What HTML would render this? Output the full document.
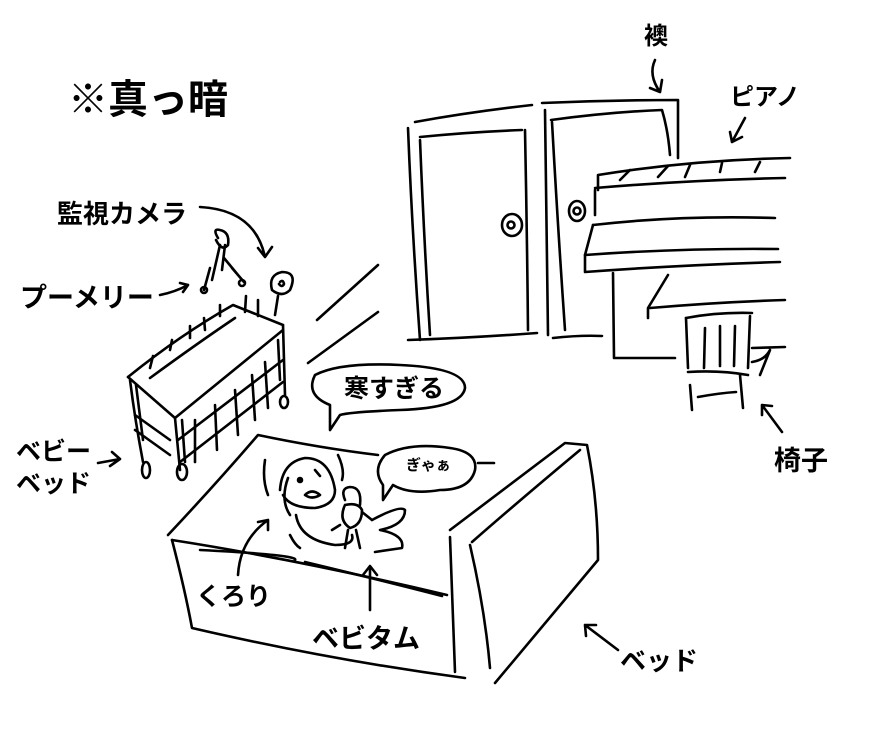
<!DOCTYPE html>
<html><head><meta charset="utf-8"><style>
html,body{margin:0;padding:0;background:#fff}
svg{display:block}
text{font-family:"Liberation Sans","Noto Sans CJK JP",sans-serif;font-weight:bold;fill:#000}
</style></head><body>
<svg width="890" height="734" viewBox="0 0 890 734" xmlns="http://www.w3.org/2000/svg">
<g fill="none" stroke="#000" stroke-width="2.6" stroke-linecap="round" stroke-linejoin="round">
<path d="M415,122 Q470,112 532,105"/>
<path d="M408,128 Q412,230 420,340"/>
<path d="M420,137 Q470,132 522,130"/>
<path d="M420,140 Q424,240 430,335"/>
<path d="M525,130 Q527,230 528,330"/>
<path d="M408,340 Q470,338 537,333"/>
<path d="M542,103 Q610,100 678,100 L678,158"/>
<path d="M551,120 Q610,112 662,110 Q668,130 670,155"/>
<path d="M545,110 Q546,220 548,335"/>
<path d="M552,122 Q558,230 565,330"/>
<path d="M553,338 Q580,335 602,336"/>
<ellipse cx="512" cy="225" rx="10" ry="11"/>
<circle cx="511" cy="225" r="3.5"/>
<ellipse cx="577" cy="211" rx="8" ry="10"/>
<circle cx="577" cy="211" r="3.5"/>
<path d="M598,190 L598,175 Q690,160 790,158"/>
<path d="M595,188 Q690,180 785,178"/>
<path d="M620,180 L630,170 M658,177 L668,166 M685,177 L690,165 M720,172 L722,163 M755,172 L760,162"/>
<path d="M595,190 L595,215"/>
<path d="M593,225 Q680,215 775,218"/>
<path d="M593,225 L585,255 L585,272 Q680,265 780,262"/>
<path d="M585,255 Q680,248 778,249"/>
<path d="M613,273 L614,358 L675,358"/>
<path d="M668,275 L648,308 L648,318"/>
<path d="M650,308 Q720,302 785,300"/>
<path d="M686,318 Q718,312 752,313"/>
<path d="M686,318 L688,368 M750,316 L748,368"/>
<path d="M705,328 L704,368 M720,326 L720,366 M735,326 L734,366"/>
<path d="M688,372 Q720,370 748,375"/>
<path d="M690,385 L692,410 M740,375 L743,408"/>
<path d="M698,397 Q720,393 736,392"/>
<path d="M752,348 L785,347 M752,362 Q765,360 770,350 L760,375"/>
<path d="M317,320 L378,265 M308,363 L378,312"/>
<path d="M128,377 Q180,335 233,305 L283,325"/>
<path d="M150,378 Q195,345 235,318"/>
<path d="M128,377 L175,418 L283,330"/>
<path d="M130,380 Q135,420 143,462 M136,385 L143,440"/>
<path d="M175,418 L180,470 M182,420 L185,462"/>
<path d="M180,462 L283,382 M178,440 L283,360"/>
<path d="M283,325 L285,395 M278,340 L280,380"/>
<path d="M195,420 L195,462 M215,405 L217,450 M235,390 L238,435 M252,375 L255,420 M265,362 L268,408"/>
<path d="M135,415 L170,440 M135,430 L170,455"/>
<path d="M150,368 L153,356 M170,350 L172,340 M190,338 L190,326 M205,330 L204,318 M220,316 L220,305 M245,312 L246,296 M258,316 L258,300"/>
<ellipse cx="146" cy="470" rx="4" ry="8"/>
<ellipse cx="182" cy="472" rx="5" ry="8"/>
<ellipse cx="284" cy="402" rx="4" ry="6"/>
<path d="M218,238 Q212,228 220,230 Q230,232 228,245 Q222,252 216,240"/>
<path d="M220,245 L212,280 M225,245 L222,270 M224,258 L238,275 M210,268 L204,290 M232,268 L244,282"/>
<circle cx="204" cy="290" r="3"/><circle cx="242" cy="283" r="3"/>
<path d="M272,290 Q268,275 282,272 Q298,272 290,290 Q282,298 272,290 Z"/>
<path d="M280,282 q3,-3 4,2 q-2,4 -5,0"/>
<path d="M278,296 L275,315"/>
<path d="M168,535 Q215,485 258,435 Q320,448 378,455"/>
<path d="M172,540 Q185,590 192,628 Q330,660 465,678"/>
<path d="M172,540 Q300,560 447,595"/>
<path d="M200,550 Q300,555 295,560 M305,562 Q380,580 442,596"/>
<path d="M450,537 L455,672"/>
<path d="M450,530 L565,443 L587,445 Q598,500 598,560 L495,683"/>
<path d="M472,542 Q520,500 580,450"/>
<path d="M470,545 Q485,610 490,668"/>
<path d="M280,490 Q282,462 305,458 Q330,458 335,490 Q335,505 315,508 Q290,508 283,495"/>
<path d="M288,478 Q280,500 290,515"/>
<path d="M296,515 Q300,540 335,545 Q355,545 352,535"/>
<circle cx="300" cy="480" r="2" fill="#000"/>
<path d="M305,495 Q312,488 320,495 Q312,500 305,495"/>
<path d="M315,470 L320,476"/>
<path d="M265,460 Q262,480 268,495 M338,455 Q345,470 342,480 M290,535 Q295,545 300,548"/>
<path d="M345,500 Q340,488 350,487 Q362,487 360,505"/>
<path d="M345,505 Q338,520 350,528 Q362,525 362,510 Q358,502 345,505"/>
<path d="M340,525 L332,530 M362,512 L372,520 M348,530 L345,548 M356,530 L360,548"/>
<path d="M372,520 Q400,505 405,510 Q405,525 380,530 Q405,535 402,548 L375,552"/>
<path d="M330,430 L330,405 Q305,395 315,375 Q340,362 400,365 Q465,368 465,388 Q462,408 400,410 Q350,412 340,415 Z"/>
<path d="M383,500 L383,485 Q372,470 385,455 Q410,442 450,448 Q478,452 475,470 Q470,490 440,490 Q410,495 393,485 Z"/>
<path d="M478,463 L494,463"/>
<path d="M655,60 Q648,75 660,92 L650,88 M660,92 L662,80"/>
<path d="M745,118 L732,142 M730,132 L732,142 L742,137"/>
<path d="M200,207 Q255,210 265,257 M258,248 L265,257 L272,247"/>
<path d="M160,295 Q175,292 188,285 M180,283 L188,285 L183,292"/>
<path d="M98,463 L120,459 M112,452 L120,459 L110,466"/>
<path d="M782,432 L762,405 M762,415 L762,405 L772,406"/>
<path d="M238,575 Q240,540 268,520 M258,522 L268,520 L268,530"/>
<path d="M370,610 L370,567 M363,575 L370,566 L377,575"/>
<path d="M618,650 L585,625 M586,636 L585,625 L596,625"/>
</g>
<text x="68" y="113" font-size="40">※真っ暗</text>
<text x="644" y="44" font-size="24">襖</text>
<text x="730" y="105" font-size="24">ピアノ</text>
<text x="57" y="223" font-size="26">監視カメラ</text>
<text x="20" y="307" font-size="27">プーメリー</text>
<text x="344" y="397" font-size="25">寒すぎる</text>
<text x="406" y="470" font-size="15" font-weight="normal">ぎゃぁ</text>
<text x="16" y="460" font-size="25">ベビー</text>
<text x="16" y="492" font-size="25">ベッド</text>
<text x="774" y="470" font-size="27">椅子</text>
<text x="196" y="605" font-size="25">くろり</text>
<text x="312" y="648" font-size="27">ベビタム</text>
<text x="620" y="670" font-size="26">ベッド</text>
</svg>
</body></html>
